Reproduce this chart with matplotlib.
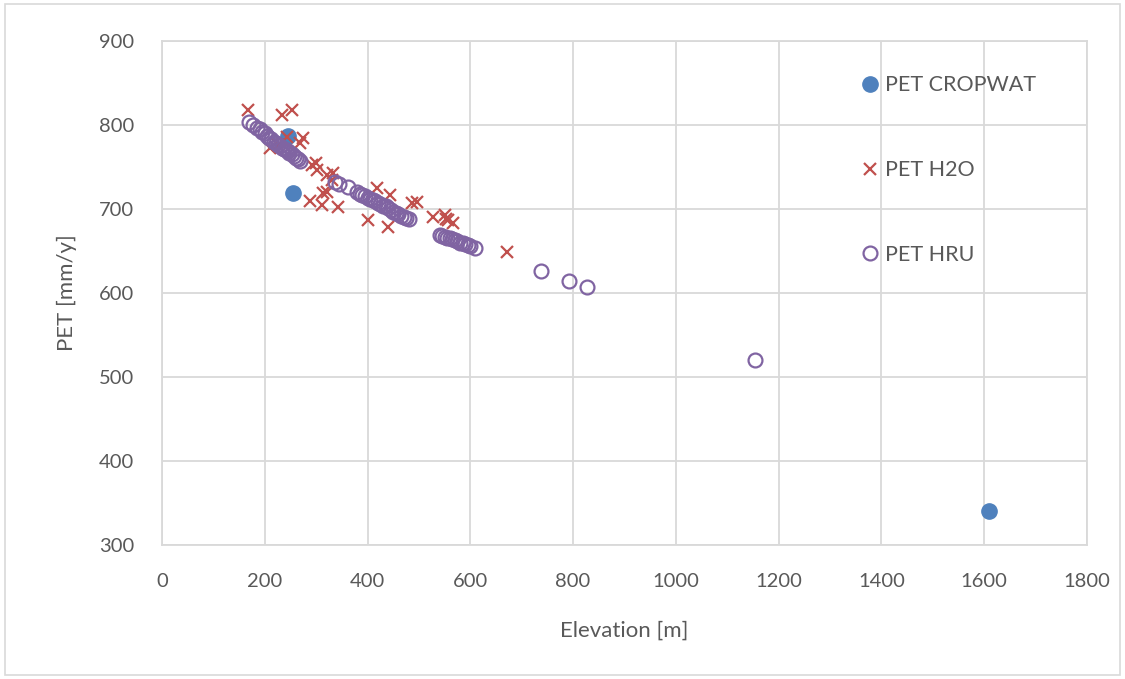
import matplotlib
matplotlib.use("Agg")
import matplotlib.pyplot as plt
from matplotlib.patches import Rectangle

# ---- data ----
cropwat_x = [245, 255, 1610]
cropwat_y = [787, 719, 340]

h2o_x = [167, 233, 253, 243, 274, 268, 210, 225, 292, 301, 321, 333, 288, 311, 313, 321, 343,
         418, 444, 401, 440, 486, 497, 527, 551, 557, 566, 553, 671, 300, 330]
h2o_y = [818, 812, 818, 786, 785, 779, 773, 776, 752, 746, 740, 743, 710, 705, 719, 720, 702,
         725, 717, 687, 679, 707, 708, 690, 693, 687, 683, 688, 649, 755, 735]

hru_x = [170, 178, 185, 190, 195, 200, 205, 208, 212, 218, 222, 226, 230, 234, 238, 242, 245,
         248, 252, 256, 260, 265, 268,
         337, 345, 362,
         380, 385, 390, 395, 400, 405, 410, 415, 420, 425, 430, 435, 440, 445, 450, 455, 460,
         465, 470, 475, 480,
         541, 545, 550, 555, 560, 565, 570, 575, 580, 585, 590, 595, 600, 609,
         737, 792, 827, 1154]
hru_y = [803, 800, 797, 795, 792, 790, 787, 785, 783, 780, 778, 776, 775, 773, 772, 770, 769,
         767, 765, 763, 761, 759, 757,
         732, 730, 726,
         720, 718, 717, 715, 713, 712, 711, 709, 707, 706, 704, 703, 701, 699, 697, 695, 694,
         692, 690, 689, 688,
         669, 668, 667, 666, 665, 664, 663, 662, 660, 659, 658, 657, 656, 654,
         626, 614, 607, 520]

x_ticks = [0, 200, 400, 600, 800, 1000, 1200, 1400, 1600, 1800]
y_ticks = [300, 400, 500, 600, 700, 800, 900]

c_blue = "#4F81BD"
c_red = "#C0504D"
c_purple = "#8064A2"
grid_c = "#D9D9D9"
text_c = "#595959"

plt.rcParams['font.family'] = ['Lato', 'DejaVu Sans']

fig = plt.figure(figsize=(11.25, 6.79), dpi=100)
ax = fig.add_axes([162/1125, 1-545/679, (1087-162)/1125, (545-41)/679])

ax.plot(cropwat_x, cropwat_y, linestyle='none', marker='o', markersize=11,
        color=c_blue, label='PET CROPWAT', zorder=3)
ax.plot(h2o_x, h2o_y, linestyle='none', marker='x', markersize=8.5, markeredgewidth=1.6,
        color=c_red, label='PET H2O', zorder=4)
ax.plot(hru_x, hru_y, linestyle='none', marker='o', markersize=10, markerfacecolor='none',
        markeredgewidth=1.6, markeredgecolor=c_purple, label='PET HRU', zorder=5)

ax.set_xlim(0, 1800)
ax.set_ylim(300, 900)
ax.set_xticks(x_ticks)
ax.set_yticks(y_ticks)
ax.grid(True, color=grid_c, linewidth=1.3)
ax.set_axisbelow(True)
for s in ax.spines.values():
    s.set_color(grid_c)
    s.set_linewidth(1.3)
ax.tick_params(axis='x', length=0, labelsize=14.5, colors=text_c, pad=20)
ax.tick_params(axis='y', length=0, labelsize=14.5, colors=text_c, pad=20)
ax.set_xlabel('Elevation [m]', fontsize=16, color=text_c, labelpad=22)
ax.set_ylabel('PET [mm/y]', fontsize=16, color=text_c, labelpad=16)

leg = ax.legend(loc='upper left', bbox_to_anchor=(0.730, 0.970), frameon=False,
                fontsize=15.5, labelspacing=3.0, handletextpad=0.1, handlelength=1.2,
                labelcolor=text_c)

fig.patches.append(Rectangle((5/1125, 4/679), 1115/1125, 671/679, transform=fig.transFigure,
                             fill=False, edgecolor=grid_c, linewidth=1.2))

fig.savefig('out.png', dpi=100, facecolor='white')
